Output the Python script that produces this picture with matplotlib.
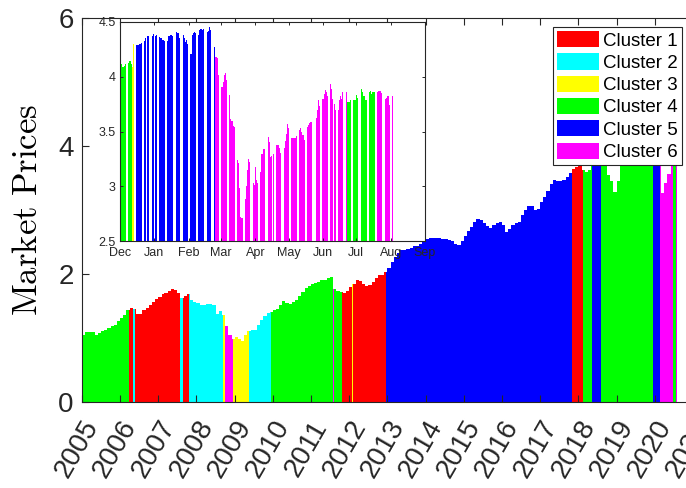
import matplotlib
matplotlib.use('Agg')
import matplotlib.pyplot as plt
import matplotlib.dates as mdates
import matplotlib.transforms as mtransforms
from matplotlib.patches import Patch
import pandas as pd

plt.rcParams['font.family'] = ['Liberation Sans', 'DejaVu Sans']
plt.rcParams['mathtext.fontset'] = 'cm'

cluster_colors = ['#ff0000', '#00ffff', '#ffff00', '#00ff00', '#0000ff', '#ff00ff']
cluster_names = ['Cluster 1', 'Cluster 2', 'Cluster 3', 'Cluster 4', 'Cluster 5', 'Cluster 6']

# cluster regimes: start date and cluster number
cluster_starts = ['2005-01-01', '2006-03-25', '2006-05-01', '2006-05-22', '2007-07-27',
                  '2007-08-03', '2007-08-08', '2007-08-25', '2007-10-19', '2008-09-12',
                  '2008-10-03', '2008-12-16', '2009-05-19', '2009-12-13', '2011-07-31',
                  '2011-08-07', '2011-10-26', '2012-01-30', '2012-02-06', '2012-12-16',
                  '2017-10-27', '2018-02-13', '2018-03-01', '2018-03-05', '2018-05-11',
                  '2018-08-03', '2019-12-12', '2019-12-14', '2020-02-25', '2020-06-23',
                  '2020-07-18']
cluster_ids = [4, 1, 2, 1, 2,
               6, 2, 1, 2, 3,
               6, 3, 2, 4, 6,
               4, 1, 3, 1, 5,
               1, 4, 2, 4, 5,
               4, 3, 5, 6, 4,
               6]
data_end = '2020-08-04'

# monthly price, Jan 2005 .. Jul 2020
monthly_price = [
    1.04, 1.09, 1.10, 1.09, 1.04, 1.08, 1.11, 1.13, 1.15, 1.18, 1.21, 1.26,  # 2005
    1.31, 1.36, 1.43, 1.47, 1.45, 1.37, 1.38, 1.43, 1.47, 1.52, 1.56, 1.61,  # 2006
    1.64, 1.68, 1.70, 1.73, 1.76, 1.75, 1.70, 1.63, 1.66, 1.69, 1.60, 1.57,  # 2007
    1.55, 1.52, 1.51, 1.53, 1.53, 1.52, 1.38, 1.42, 1.36, 1.18, 1.04, 0.98,  # 2008
    1.02, 0.98, 0.95, 1.05, 1.11, 1.12, 1.13, 1.20, 1.28, 1.35, 1.39, 1.41,  # 2009
    1.43, 1.46, 1.52, 1.58, 1.55, 1.53, 1.56, 1.60, 1.66, 1.72, 1.78, 1.82,  # 2010
    1.84, 1.86, 1.88, 1.90, 1.91, 1.93, 1.96, 1.76, 1.73, 1.72, 1.71, 1.73,  # 2011
    1.79, 1.85, 1.90, 1.89, 1.84, 1.81, 1.83, 1.88, 1.94, 1.98, 1.99, 2.03,  # 2012
    2.10, 2.18, 2.26, 2.33, 2.38, 2.37, 2.39, 2.41, 2.43, 2.44, 2.47, 2.51,  # 2013
    2.55, 2.56, 2.56, 2.57, 2.56, 2.55, 2.54, 2.53, 2.52, 2.47, 2.45, 2.52,  # 2014
    2.60, 2.67, 2.74, 2.81, 2.86, 2.84, 2.80, 2.75, 2.72, 2.76, 2.80, 2.81,  # 2015
    2.76, 2.65, 2.71, 2.76, 2.79, 2.81, 2.92, 3.00, 3.06, 3.07, 3.00, 3.02,  # 2016
    3.13, 3.21, 3.30, 3.40, 3.47, 3.45, 3.45, 3.47, 3.52, 3.58, 3.64, 3.67,  # 2017
    3.70, 3.62, 3.60, 3.62, 3.75, 3.82, 3.90, 3.95, 3.90, 3.55, 3.45, 3.28,  # 2018
    3.45, 3.68, 3.78, 3.90, 3.80, 3.92, 4.00, 3.92, 3.98, 4.00, 4.10, 4.15,  # 2019
    4.35, 4.40, 3.26, 3.42, 3.57, 3.70, 3.82,                                # 2020
]
year_ticks = list(range(2005, 2022))

# inset: daily prices Dec 2019 .. Aug 2020 (trading days)
inset_holidays = ['2019-12-25', '2020-01-01', '2020-01-20', '2020-02-17',
                  '2020-04-10', '2020-05-25', '2020-07-03']
inset_dec = [4.12, 4.09, 4.09, 4.10, 4.12, 4.13, 4.14, 4.12, 4.09, 4.30,
             4.29, 4.29, 4.29, 4.30, 4.31, 4.33, 4.35, 4.37, 4.37, 4.37, 4.39]
inset_jan = [4.37, 4.38, 4.36, 4.35, 4.34, 4.34, 4.33, 4.33, 4.37, 4.37, 4.38, 4.37,
             4.41, 4.40, 4.40, 4.35, 4.38, 4.35, 4.32, 4.34, 4.30]
inset_feb = [4.21, 4.38, 4.40, 4.41, 4.40, 4.38, 4.43, 4.44, 4.43, 4.44,
             4.41, 4.42, 4.45, 4.43, 4.27, 4.18, 4.18, 4.17, 4.02]
inset_mar = [3.91, 3.95, 4.02, 4.03, 3.97, 3.83, 3.61, 3.60, 3.55, 3.54,
             3.24, 3.21, 2.98, 2.72, 2.71, 2.88, 3.00, 3.15, 3.25, 3.22, 3.03, 3.01]
inset_apr = [3.18, 3.06, 3.03, 3.13, 3.29, 3.34, 3.34, 3.45, 3.40, 3.27, 3.28,
             3.29, 3.38, 3.38, 3.38, 3.35, 3.30, 3.35, 3.41, 3.48, 3.57]
inset_may = [3.53, 3.44, 3.44, 3.44, 3.44, 3.46, 3.51, 3.53, 3.50, 3.47,
             3.42, 3.54, 3.56, 3.58, 3.59, 3.59, 3.62, 3.70, 3.79, 3.73]
inset_jun = [3.80, 3.84, 3.88, 3.86, 3.82, 3.93, 3.89, 3.80, 3.75, 3.70, 3.70,
             3.79, 3.82, 3.80, 3.86, 3.86, 3.77, 3.77, 3.77, 3.79, 3.79, 3.79]
inset_jul = [3.83, 3.81, 3.89, 3.86, 3.82, 3.79, 3.79, 3.86, 3.87, 3.84, 3.86,
             3.86, 3.86, 3.87, 3.87, 3.87, 3.85, 3.80, 3.81, 3.82, 3.82, 3.74]
inset_aug = [3.82]
inset_months = ['Dec', 'Jan', 'Feb', 'Mar', 'Apr', 'May', 'Jun', 'Jul', 'Aug', 'Sep']

axis_col = '#262626'

seg_start = pd.to_datetime(cluster_starts)
month_start = pd.date_range('2005-01-01', periods=len(monthly_price), freq='MS')
end = pd.Timestamp(data_end)

# split monthly bars where the cluster changes
edges = set(month_start) | {end}
edges |= set(s for s in seg_start if month_start[0] < s < end)
edges = sorted(edges)
lefts, widths, heights, colors = [], [], [], []
for a, b in zip(edges[:-1], edges[1:]):
    m = month_start.searchsorted(a, side='right') - 1
    c = seg_start.searchsorted(a, side='right') - 1
    lefts.append(mdates.date2num(a))
    widths.append(mdates.date2num(b) - mdates.date2num(a))
    heights.append(monthly_price[m])
    colors.append(cluster_colors[cluster_ids[c] - 1])

fig = plt.figure(figsize=(6.86, 4.88), dpi=100)
ax = fig.add_axes([82 / 686, 86 / 488, 611 / 686, 384 / 488])
ax.bar(lefts, heights, width=widths, align='edge', color=colors,
       linewidth=0, antialiased=False)
ax.set_xlim(mdates.date2num(pd.Timestamp('2005-01-01')),
            mdates.date2num(pd.Timestamp('2021-01-01')))
ax.set_ylim(0, 6)
ax.set_yticks([0, 2, 4, 6])
ax.set_yticklabels(['0', '2', '4', '6'])
ax.set_xticks([mdates.date2num(pd.Timestamp(f'{y}-01-01')) for y in year_ticks])
ax.set_xticklabels([str(y) for y in year_ticks], rotation=60, ha='right', va='top')
ax.tick_params(direction='in', top=True, right=True, length=5, width=0.8,
               colors=axis_col, labelsize=20)
ax.tick_params(axis='x', pad=10)
ax.tick_params(axis='y', pad=6)
for s in ax.spines.values():
    s.set_color(axis_col)
    s.set_linewidth(0.8)
offset = mtransforms.ScaledTranslation(22 / 100, 0, fig.dpi_scale_trans)
for lab in ax.get_xticklabels():
    lab.set_transform(lab.get_transform() + offset)

ax.set_ylabel(r'$\mathrm{Market\ Prices}$', fontsize=25, color='black')
ax.yaxis.set_label_coords(-0.062, 0.5)

handles = [Patch(facecolor=c, edgecolor=c, linewidth=0) for c in cluster_colors]
leg = ax.legend(handles, cluster_names, loc='upper right',
                bbox_to_anchor=(682 / 686, 1 - 27 / 488), bbox_transform=fig.transFigure,
                borderaxespad=0, fontsize=13.5, fancybox=False, framealpha=1,
                edgecolor=axis_col, borderpad=0.22, labelspacing=0.2,
                handlelength=2.24, handleheight=0.95, handletextpad=0.22)
leg.get_frame().set_linewidth(0.8)

# inset
inset_days = pd.bdate_range('2019-12-02', '2020-08-03', freq='C', holidays=inset_holidays)
inset_price = (inset_dec + inset_jan + inset_feb + inset_mar + inset_apr +
               inset_may + inset_jun + inset_jul + inset_aug)
inset_cl = seg_start.searchsorted(inset_days, side='right') - 1
inset_colors = [cluster_colors[cluster_ids[k] - 1] for k in inset_cl]

axi = fig.add_axes([120 / 686, 1 - 241 / 488, 305 / 686, 219 / 488])
axi.set_facecolor('white')
axi.bar(mdates.date2num(inset_days), inset_price, width=1.0, color=inset_colors, linewidth=0)
month_ticks = pd.date_range('2019-12-01', '2020-09-01', freq='MS')
axi.set_xlim(mdates.date2num(month_ticks[0]), mdates.date2num(month_ticks[-1]))
axi.set_ylim(2.5, 4.5)
axi.set_xticks(mdates.date2num(month_ticks))
axi.set_xticklabels(inset_months)
axi.set_yticks([2.5, 3, 3.5, 4, 4.5])
axi.set_yticklabels(['2.5', '3', '3.5', '4', '4.5'])
axi.tick_params(direction='in', top=True, right=True, length=2.5, width=0.7,
                colors=axis_col, labelsize=9)
axi.tick_params(axis='x', pad=4)
axi.tick_params(axis='y', pad=3)
for s in axi.spines.values():
    s.set_color(axis_col)
    s.set_linewidth(0.8)

fig.savefig('out.png', dpi=100)
